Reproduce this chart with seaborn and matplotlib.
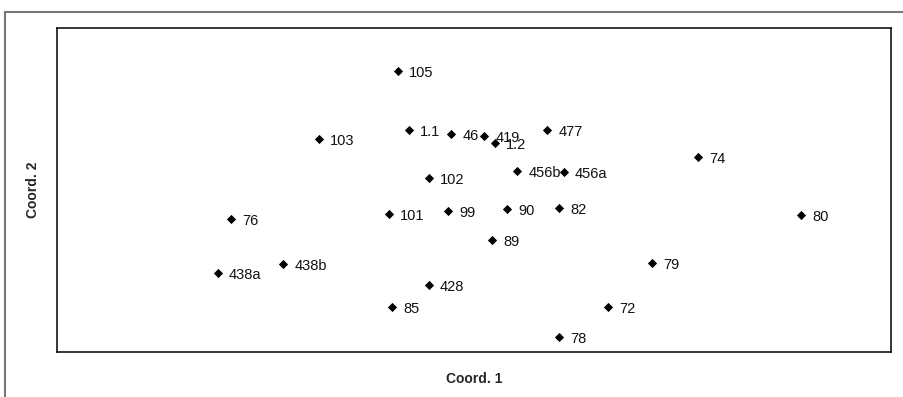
import pandas as pd
import matplotlib.pyplot as plt
import seaborn as sns
from matplotlib.patches import Rectangle

# Point labels and their ordination scores
labels = ['105', '103', '1.1', '46', '419', '1.2', '477', '74', '102', '456b',
          '456a', '76', '101', '99', '90', '82', '80', '89', '438b', '438a',
          '79', '428', '85', '72', '78']
coord1 = [-0.127, -0.258, -0.108, -0.038, 0.017, 0.035, 0.122, 0.373, -0.075, 0.072,
          0.150, -0.405, -0.142, -0.043, 0.055, 0.142, 0.545, 0.030, -0.318, -0.427,
          0.297, -0.075, -0.137, 0.223, 0.142]
coord2 = [0.198, 0.085, 0.100, 0.093, 0.090, 0.078, 0.100, 0.055, 0.020, 0.032,
          0.030, -0.048, -0.040, -0.035, -0.032, -0.030, -0.042, -0.083, -0.123, -0.138,
          -0.122, -0.158, -0.195, -0.195, -0.245]

df = pd.DataFrame({'label': labels, 'Coord. 1': coord1, 'Coord. 2': coord2})

sns.set_style('white')
plt.rcParams['font.family'] = ['Liberation Sans', 'DejaVu Sans']

fig = plt.figure(figsize=(9.04, 3.97), dpi=100)
ax = fig.add_axes([0.063, 0.1134, 0.9226, 0.816])

sns.scatterplot(data=df, x='Coord. 1', y='Coord. 2', marker='D', s=22,
                color='black', edgecolor='black', linewidth=0, ax=ax)

for _, row in df.iterrows():
    ax.annotate(row['label'], (row['Coord. 1'], row['Coord. 2']),
                xytext=(8, -1.5), textcoords='offset points',
                ha='left', va='center', fontsize=10.5, color='#111111')

ax.set_xlim(-0.695, 0.695)
ax.set_ylim(-0.27, 0.27)
ax.set_xticks([])
ax.set_yticks([])
for sp in ax.spines.values():
    sp.set_color('black')
    sp.set_linewidth(1.1)

ax.set_xlabel('Coord. 1', fontsize=10, fontweight='bold')
ax.set_ylabel('Coord. 2', fontsize=10, fontweight='bold')
ax.xaxis.set_label_coords(0.5, -0.063)
ax.yaxis.set_label_coords(-0.02, 0.5)

# outer frame (only top and left edges show in the picture)
fig.add_artist(Rectangle((5 / 904, -0.1), 1.2, 1 - 12 / 397 + 0.1,
                         transform=fig.transFigure, fill=False,
                         edgecolor='#777777', linewidth=1.5))

plt.savefig('out.png', dpi=100)
